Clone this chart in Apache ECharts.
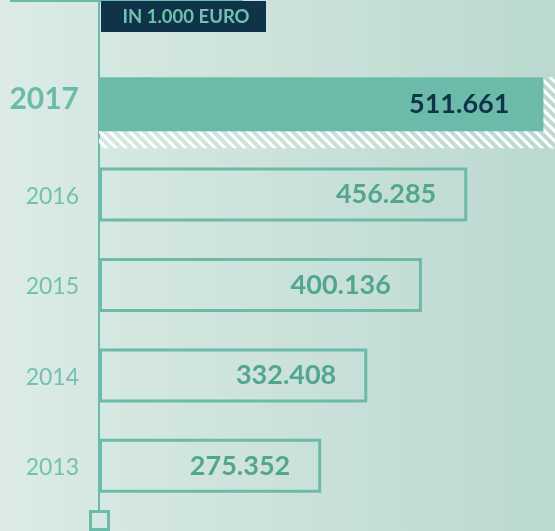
<!DOCTYPE html>
<html>
<head>
<meta charset="utf-8">
<script src="https://cdn.jsdelivr.net/npm/echarts@6/dist/echarts.min.js"></script>
<style>
  html, body { margin: 0; padding: 0; }
  #chart { width: 555px; height: 531px; }
</style>
</head>
<body>
<div id="chart"></div>
<script>
// Werte in 1.000 Euro
const years = ['2017', '2016', '2015', '2014', '2013'];
const values = [511661, 456285, 400136, 332408, 275352];
const unitText = 'IN 1.000 EURO';
// 2017 is drawn on its own (stretched) scale, like in the original graphic
const mainMax = 565000;
const highlightMax = 525000;

const teal = '#6cbaa9';
const navy = '#0f3349';

const fmt = v => (v / 1000).toFixed(3);

const highlightData = values.map((v, i) => (i === 0 ? v : '-'));
const otherData = values.map((v, i) => (i === 0 ? '-' : v));
const bandData = values.map((v, i) => (i === 0 ? highlightMax : '-'));

const chart = echarts.init(document.getElementById('chart'));

const option = {
  backgroundColor: new echarts.graphic.LinearGradient(0, 0, 1, 0, [
    { offset: 0, color: '#dcebe6' },
    { offset: 1, color: '#bbd9d0' }
  ]),
  animation: false,
  grid: { left: 99, right: 0, top: 59, bottom: 20 },
  xAxis: [
    { type: 'value', min: 0, max: mainMax, show: false },
    { type: 'value', min: 0, max: highlightMax, show: false }
  ],
  yAxis: {
    type: 'category',
    data: years,
    inverse: true,
    axisLine: { show: false },
    axisTick: { show: false },
    splitLine: { show: false },
    axisLabel: {
      margin: 20,
      fontFamily: 'Lato',
      formatter: (v, i) => (i === 0 ? '{hl|' + v + '}' : '{yr|' + v + '}'),
      rich: {
        hl: { fontSize: 30, fontWeight: 'bold', color: teal, fontFamily: 'Lato', padding: [0, 0, 9, 0] },
        yr: { fontSize: 23, color: '#74c0ae', fontFamily: 'Lato', padding: [4, 0, 0, 0] }
      }
    }
  },
  graphic: [
    { type: 'line', z: 1, shape: { x1: 10, y1: 1, x2: 243, y2: 1 }, style: { stroke: teal, lineWidth: 2 } },
    { type: 'line', z: 1, shape: { x1: 99, y1: 0, x2: 99, y2: 510 }, style: { stroke: teal, lineWidth: 2 } },
    { type: 'rect', z: 1, shape: { x: 90.5, y: 511.5, width: 18, height: 18 }, style: { fill: 'none', stroke: teal, lineWidth: 3 } },
    { type: 'rect', z: 3, shape: { x: 101, y: 1, width: 165, height: 31 }, style: { fill: navy } },
    {
      type: 'text', z: 4, x: 186, y: 17,
      style: { text: unitText, fill: '#72c0ad', font: 'bold 18.5px Lato', align: 'center', verticalAlign: 'middle' }
    }
  ],
  series: [
    {
      name: 'band',
      type: 'bar',
      xAxisIndex: 1,
      barWidth: 71,
      barGap: '-100%',
      silent: true,
      data: bandData,
      itemStyle: {
        color: 'rgba(0,0,0,0)',
        decal: {
          symbol: 'rect',
          symbolSize: 1,
          color: '#ffffff',
          backgroundColor: 'rgba(0,0,0,0)',
          dashArrayX: [1, 0],
          dashArrayY: [3, 4],
          rotation: Math.PI / 4
        }
      }
    },
    {
      name: '2017',
      type: 'bar',
      xAxisIndex: 1,
      barWidth: 54,
      barGap: '-100%',
      data: highlightData,
      itemStyle: { color: teal, borderColor: teal, borderWidth: 3 },
      label: {
        show: true,
        position: 'insideRight',
        distance: 34,
        formatter: p => fmt(p.value),
        color: navy,
        fontFamily: 'Lato',
        fontWeight: 'bold',
        fontSize: 27
      }
    },
    {
      name: 'Vorjahre',
      type: 'bar',
      xAxisIndex: 0,
      barWidth: 54,
      barGap: '-100%',
      data: otherData,
      itemStyle: { color: 'rgba(0,0,0,0)', borderColor: teal, borderWidth: 3 },
      label: {
        show: true,
        position: 'insideRight',
        distance: 31,
        formatter: p => fmt(p.value),
        color: '#52a68f',
        fontFamily: 'Lato',
        fontWeight: 'bold',
        fontSize: 27
      }
    }
  ]
};

chart.setOption(option);
</script>
</body>
</html>
